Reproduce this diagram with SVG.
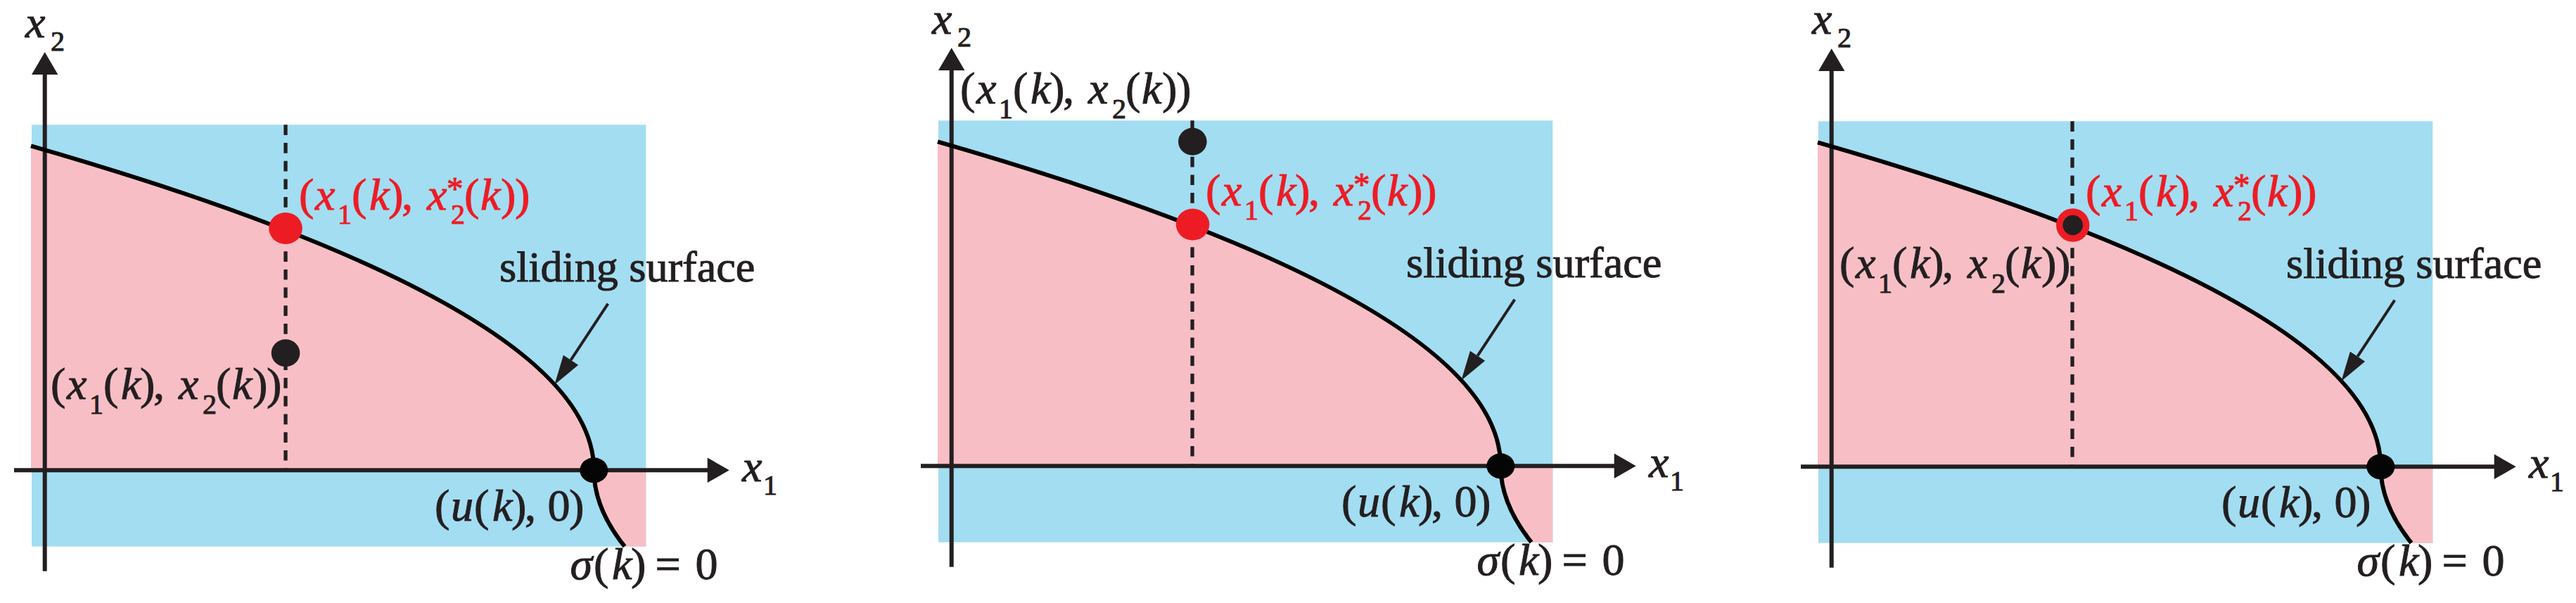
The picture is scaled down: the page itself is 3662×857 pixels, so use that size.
<svg xmlns="http://www.w3.org/2000/svg" width="3662" height="857" viewBox="0 0 3662 857">
<style>
.blue{fill:#A3DDF2}
.pink{fill:#F7BFC5}
.ax{stroke:#231F20;stroke-width:6;fill:none}
.ah{fill:#231F20}
.curve{stroke:#000;stroke-width:6;fill:none}
.dash{stroke:#231F20;stroke-width:5.3;stroke-dasharray:14.7 11;fill:none}
.ptr{stroke:#231F20;stroke-width:4;fill:none}
.t{font-family:'Liberation Serif','Times New Roman',serif;font-size:64px;fill:#231F20;stroke:#231F20;stroke-width:1px}
.sl{font-size:62px}
.i{font-style:italic}
.s{font-size:40px}
.st{font-size:47px}
.r{fill:#ED1C24;stroke:#ED1C24}
.dotR{fill:#ED1C24}
.dotK{fill:#231F20}
.dotU{fill:#050505}
</style>
<rect width="3662" height="857" fill="#fff"/>

<!-- ===== Panel 1 ===== -->
<g id="panel1">
  <g id="p1-regions">
    <rect class="blue" x="45" y="177.3" width="873.3" height="599.4"/>
    <path class="pink" d="M44,207.3 Q844.3,437.8 844.3,668.3 L44,668.3 Z"/>
    <path class="pink" d="M844.3,668.3 Q844.3,722.2 888,776.7 L918.3,776.7 L918.3,668.3 Z"/>
  </g>
  <g id="p1-connectors">
    <line class="ax" x1="63.7" y1="811.7" x2="63.7" y2="104"/>
    <polygon class="ah" points="63.7,74 45,106 82.4,106"/>
    <line class="ax" x1="20" y1="668.3" x2="1007" y2="668.3"/>
    <polygon class="ah" points="1036.7,668.3 1005.7,650.5 1005.7,686.1"/>
    <line class="dash" x1="406" y1="177.3" x2="406" y2="668.3"/>
    <path class="curve" d="M44,207.3 Q844.3,437.8 844.3,668.3 Q844.3,722.2 888,776.7"/>
    <line class="ptr" x1="864.3" y1="431.7" x2="811.5" y2="511.7"/>
    <polygon class="ah" points="788.3,546.7 800.9,504.7 822.1,518.7"/>
  </g>
  <g id="p1-label-x2">
    <text class="t"><tspan class="i" x="36" y="52.7">x</tspan><tspan class="s" x="72" y="71.7">2</tspan></text>
  </g>
  <g id="p1-label-x1">
    <text class="t"><tspan class="i" x="1055" y="684">x</tspan><tspan class="s" x="1085" y="703">1</tspan></text>
  </g>
  <g id="p1-point-target">
    <ellipse class="dotR" cx="406" cy="324.5" rx="23.8" ry="22.5"/>
    <text class="t r"><tspan x="425" y="298.3">(</tspan><tspan class="i" x="448" y="298.3">x</tspan><tspan class="s" x="480" y="318.3">1</tspan><tspan x="500" y="298.3">(</tspan><tspan class="i" x="525" y="298.3">k</tspan><tspan x="552" y="298.3">)</tspan><tspan x="571" y="298.3">,</tspan><tspan class="i" x="607" y="298.3">x</tspan><tspan class="st" x="635" y="284">*</tspan><tspan class="s" x="641" y="318.3">2</tspan><tspan x="660" y="298.3">(</tspan><tspan class="i" x="683" y="298.3">k</tspan><tspan x="712" y="298.3">)</tspan><tspan x="732" y="298.3">)</tspan></text>
  </g>
  <g id="p1-point-state">
    <ellipse class="dotK" cx="406" cy="501.7" rx="20.3" ry="19.5"/>
    <text class="t"><tspan x="72" y="566.7">(</tspan><tspan class="i" x="95" y="566.7">x</tspan><tspan class="s" x="127" y="588">1</tspan><tspan x="147" y="566.7">(</tspan><tspan class="i" x="172" y="566.7">k</tspan><tspan x="199" y="566.7">)</tspan><tspan x="218" y="566.7">,</tspan><tspan class="i" x="254" y="566.7">x</tspan><tspan class="s" x="288" y="588">2</tspan><tspan x="307" y="566.7">(</tspan><tspan class="i" x="330" y="566.7">k</tspan><tspan x="359" y="566.7">)</tspan><tspan x="379" y="566.7">)</tspan></text>
  </g>
  <g id="p1-point-u">
    <ellipse class="dotU" cx="844.3" cy="668.3" rx="20" ry="18"/>
    <text class="t"><tspan x="618" y="740">(</tspan><tspan class="i" x="641" y="740">u</tspan><tspan x="674" y="740">(</tspan><tspan class="i" x="700" y="740">k</tspan><tspan x="727" y="740">)</tspan><tspan x="746" y="740">,</tspan><tspan x="778.5" y="740">0</tspan><tspan x="809" y="740">)</tspan></text>
  </g>
  <g id="p1-label-sigma">
    <text class="t"><tspan class="i" x="810.5" y="823.3">σ</tspan><tspan x="844" y="823.3">(</tspan><tspan class="i" x="870" y="823.3">k</tspan><tspan x="897" y="823.3">)</tspan><tspan x="931.5" y="823.3">=</tspan><tspan x="988.5" y="823.3">0</tspan></text>
  </g>
  <g id="p1-label-sliding">
    <text class="t sl" x="710" y="400">sliding surface</text>
  </g>
</g>

<!-- ===== Panel 2 ===== -->
<g id="panel2" transform="translate(1289,-6)">
  <g id="p2-regions">
    <rect class="blue" x="45" y="177.3" width="873.3" height="599.4"/>
    <path class="pink" d="M44,207.3 Q844.3,437.8 844.3,668.3 L44,668.3 Z"/>
    <path class="pink" d="M844.3,668.3 Q844.3,722.2 888,776.7 L918.3,776.7 L918.3,668.3 Z"/>
  </g>
  <g id="p2-connectors">
    <line class="ax" x1="63.7" y1="811.7" x2="63.7" y2="104"/>
    <polygon class="ah" points="63.7,74 45,106 82.4,106"/>
    <line class="ax" x1="20" y1="668.3" x2="1007" y2="668.3"/>
    <polygon class="ah" points="1036.7,668.3 1005.7,650.5 1005.7,686.1"/>
    <line class="dash" x1="406" y1="177.3" x2="406" y2="668.3"/>
    <path class="curve" d="M44,207.3 Q844.3,437.8 844.3,668.3 Q844.3,722.2 888,776.7"/>
    <line class="ptr" x1="864.3" y1="431.7" x2="811.5" y2="511.7"/>
    <polygon class="ah" points="788.3,546.7 800.9,504.7 822.1,518.7"/>
  </g>
  <g id="p2-label-x2">
    <text class="t"><tspan class="i" x="36" y="53.5">x</tspan><tspan class="s" x="72" y="72">2</tspan></text>
  </g>
  <g id="p2-label-x1">
    <text class="t"><tspan class="i" x="1055" y="684">x</tspan><tspan class="s" x="1085" y="703">1</tspan></text>
  </g>
  <g id="p2-point-target">
    <ellipse class="dotR" cx="406.5" cy="325" rx="23.8" ry="22.5"/>
    <text class="t r"><tspan x="425" y="298.3">(</tspan><tspan class="i" x="448" y="298.3">x</tspan><tspan class="s" x="480" y="318.3">1</tspan><tspan x="500" y="298.3">(</tspan><tspan class="i" x="525" y="298.3">k</tspan><tspan x="552" y="298.3">)</tspan><tspan x="571" y="298.3">,</tspan><tspan class="i" x="607" y="298.3">x</tspan><tspan class="st" x="635" y="284">*</tspan><tspan class="s" x="641" y="318.3">2</tspan><tspan x="660" y="298.3">(</tspan><tspan class="i" x="683" y="298.3">k</tspan><tspan x="712" y="298.3">)</tspan><tspan x="732" y="298.3">)</tspan></text>
  </g>
  <g id="p2-point-state">
    <ellipse class="dotK" cx="406.3" cy="207.3" rx="20.3" ry="19.5"/>
    <text class="t"><tspan x="76" y="152.7">(</tspan><tspan class="i" x="99" y="152.7">x</tspan><tspan class="s" x="131" y="174">1</tspan><tspan x="151" y="152.7">(</tspan><tspan class="i" x="176" y="152.7">k</tspan><tspan x="203" y="152.7">)</tspan><tspan x="222" y="152.7">,</tspan><tspan class="i" x="258" y="152.7">x</tspan><tspan class="s" x="292" y="174">2</tspan><tspan x="311" y="152.7">(</tspan><tspan class="i" x="334" y="152.7">k</tspan><tspan x="363" y="152.7">)</tspan><tspan x="383" y="152.7">)</tspan></text>
  </g>
  <g id="p2-point-u">
    <ellipse class="dotU" cx="844.3" cy="668.3" rx="20" ry="18"/>
    <text class="t"><tspan x="618" y="740">(</tspan><tspan class="i" x="641" y="740">u</tspan><tspan x="674" y="740">(</tspan><tspan class="i" x="700" y="740">k</tspan><tspan x="727" y="740">)</tspan><tspan x="746" y="740">,</tspan><tspan x="778.5" y="740">0</tspan><tspan x="809" y="740">)</tspan></text>
  </g>
  <g id="p2-label-sigma">
    <text class="t"><tspan class="i" x="810.5" y="823.3">σ</tspan><tspan x="844" y="823.3">(</tspan><tspan class="i" x="870" y="823.3">k</tspan><tspan x="897" y="823.3">)</tspan><tspan x="931.5" y="823.3">=</tspan><tspan x="988.5" y="823.3">0</tspan></text>
  </g>
  <g id="p2-label-sliding">
    <text class="t sl" x="710" y="400">sliding surface</text>
  </g>
</g>

<!-- ===== Panel 3 ===== -->
<g id="panel3" transform="translate(2540,-5)">
  <g id="p3-regions">
    <rect class="blue" x="45" y="177.3" width="873.3" height="599.4"/>
    <path class="pink" d="M44,207.3 Q844.3,437.8 844.3,668.3 L44,668.3 Z"/>
    <path class="pink" d="M844.3,668.3 Q844.3,722.2 888,776.7 L918.3,776.7 L918.3,668.3 Z"/>
  </g>
  <g id="p3-connectors">
    <line class="ax" x1="63.7" y1="811.7" x2="63.7" y2="104"/>
    <polygon class="ah" points="63.7,74 45,106 82.4,106"/>
    <line class="ax" x1="20" y1="668.3" x2="1007" y2="668.3"/>
    <polygon class="ah" points="1036.7,668.3 1005.7,650.5 1005.7,686.1"/>
    <line class="dash" x1="406" y1="177.3" x2="406" y2="668.3"/>
    <path class="curve" d="M44,207.3 Q844.3,437.8 844.3,668.3 Q844.3,722.2 888,776.7"/>
    <line class="ptr" x1="864.3" y1="431.7" x2="811.5" y2="511.7"/>
    <polygon class="ah" points="788.3,546.7 800.9,504.7 822.1,518.7"/>
  </g>
  <g id="p3-label-x2">
    <text class="t"><tspan class="i" x="36" y="53">x</tspan><tspan class="s" x="72" y="72">2</tspan></text>
  </g>
  <g id="p3-label-x1">
    <text class="t"><tspan class="i" x="1055" y="684">x</tspan><tspan class="s" x="1085" y="703">1</tspan></text>
  </g>
  <g id="p3-point-target">
    <circle class="dotR" cx="406.7" cy="325" r="23.7"/>
    <circle class="dotK" cx="406.7" cy="325" r="14.3"/>
    <text class="t r"><tspan x="425" y="298.3">(</tspan><tspan class="i" x="448" y="298.3">x</tspan><tspan class="s" x="480" y="318.3">1</tspan><tspan x="500" y="298.3">(</tspan><tspan class="i" x="525" y="298.3">k</tspan><tspan x="552" y="298.3">)</tspan><tspan x="571" y="298.3">,</tspan><tspan class="i" x="607" y="298.3">x</tspan><tspan class="st" x="635" y="284">*</tspan><tspan class="s" x="641" y="318.3">2</tspan><tspan x="660" y="298.3">(</tspan><tspan class="i" x="683" y="298.3">k</tspan><tspan x="712" y="298.3">)</tspan><tspan x="732" y="298.3">)</tspan></text>
  </g>
  <g id="p3-point-state">
    <text class="t"><tspan x="75" y="400">(</tspan><tspan class="i" x="98" y="400">x</tspan><tspan class="s" x="130" y="421">1</tspan><tspan x="150" y="400">(</tspan><tspan class="i" x="175" y="400">k</tspan><tspan x="202" y="400">)</tspan><tspan x="221" y="400">,</tspan><tspan class="i" x="257" y="400">x</tspan><tspan class="s" x="291" y="421">2</tspan><tspan x="310" y="400">(</tspan><tspan class="i" x="333" y="400">k</tspan><tspan x="362" y="400">)</tspan><tspan x="382" y="400">)</tspan></text>
  </g>
  <g id="p3-point-u">
    <ellipse class="dotU" cx="844.3" cy="668.3" rx="20" ry="18"/>
    <text class="t"><tspan x="618" y="740">(</tspan><tspan class="i" x="641" y="740">u</tspan><tspan x="674" y="740">(</tspan><tspan class="i" x="700" y="740">k</tspan><tspan x="727" y="740">)</tspan><tspan x="746" y="740">,</tspan><tspan x="778.5" y="740">0</tspan><tspan x="809" y="740">)</tspan></text>
  </g>
  <g id="p3-label-sigma">
    <text class="t"><tspan class="i" x="810.5" y="823.3">σ</tspan><tspan x="844" y="823.3">(</tspan><tspan class="i" x="870" y="823.3">k</tspan><tspan x="897" y="823.3">)</tspan><tspan x="931.5" y="823.3">=</tspan><tspan x="988.5" y="823.3">0</tspan></text>
  </g>
  <g id="p3-label-sliding">
    <text class="t sl" x="710" y="400">sliding surface</text>
  </g>
</g>
</svg>
